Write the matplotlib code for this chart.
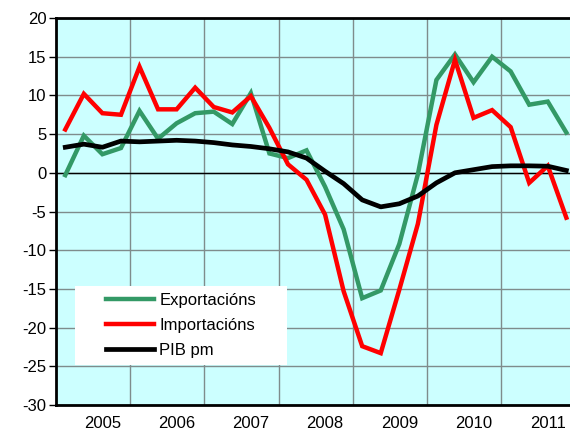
import matplotlib
matplotlib.use('Agg')
import matplotlib.pyplot as plt
from matplotlib.patches import Rectangle

plt.rcParams['font.family'] = ['Liberation Sans', 'DejaVu Sans']
plt.rcParams['axes.unicode_minus'] = False

# quarterly year-on-year rates, 2005Q1 .. 2011Q4
years = ['2005', '2006', '2007', '2008', '2009', '2010', '2011']
exportacions = [-0.3, 4.8, 2.4, 3.2, 8.0, 4.4, 6.4, 7.7,
                7.9, 6.3, 10.3, 2.5, 1.9, 2.9, -1.8, -7.3,
                -16.2, -15.2, -9.2, -0.2, 12.0, 15.3, 11.7, 15.0,
                13.1, 8.8, 9.2, 5.2]
importacions = [5.6, 10.2, 7.7, 7.5, 13.7, 8.2, 8.2, 11.0,
                8.5, 7.8, 9.9, 5.8, 1.1, -0.9, -5.4, -15.3,
                -22.4, -23.3, -15.1, -6.6, 6.2, 14.6, 7.1, 8.1,
                5.9, -1.3, 0.9, -5.8]
pib = [3.3, 3.7, 3.3, 4.1, 4.0, 4.1, 4.2, 4.1,
       3.9, 3.6, 3.4, 3.1, 2.7, 1.9, 0.2, -1.4,
       -3.5, -4.4, -4.0, -3.0, -1.3, 0.0, 0.4, 0.8,
       0.9, 0.9, 0.85, 0.3]

fig = plt.figure(figsize=(5.7, 4.32), dpi=100)
ax = fig.add_axes([56 / 570, 1 - 405 / 432, 519.6 / 570, 387 / 432])
ax.set_facecolor('#CCFFFF')

x = list(range(len(pib)))
ax.plot(x, exportacions, color='#339966', lw=3.2, zorder=3,
        solid_joinstyle='miter', label='Exportacións')
ax.plot(x, importacions, color='#FF0000', lw=3.2, zorder=3,
        solid_joinstyle='miter', label='Importacións')
ax.plot(x, pib, color='black', lw=3.4, zorder=3, label='PIB pm')
ax.axhline(0, color='black', lw=1.0, zorder=2)

ax.set_xlim(-0.5, 27.5)
ax.set_ylim(-30, 20)
ax.set_yticks(range(-30, 21, 5))
ax.set_xticks([4 * i + 2 for i in range(len(years))])
ax.set_xticklabels(years)
ax.set_xticks([4 * i - 0.5 for i in range(1, len(years))], minor=True)
ax.grid(True, which='major', axis='y', color='#7f8c8c', lw=1.0, zorder=1)
ax.grid(True, which='minor', axis='x', color='#7f8c8c', lw=1.0, zorder=1)
ax.set_axisbelow(True)
ax.tick_params(axis='y', labelsize=12, length=5, width=1, pad=2, direction='out')
ax.tick_params(axis='x', which='both', length=0, labelsize=12, pad=8)

for side in ['left', 'top', 'bottom']:
    ax.spines[side].set_linewidth(2)
ax.spines['right'].set_visible(False)

# white legend panel
box_l, box_r = (75 - 56) / 519.6, (286.7 - 56) / 519.6
box_t, box_b = (405 - 286) / 387, (405 - 365) / 387
ax.add_patch(Rectangle((box_l, box_b), box_r - box_l, box_t - box_b,
                       transform=ax.transAxes, facecolor='white',
                       edgecolor='none', zorder=4))
leg = ax.legend(loc='center', bbox_to_anchor=((box_l + box_r) / 2, (box_t + box_b) / 2),
                frameon=False, fontsize=12, handlelength=2.9, handletextpad=0.3,
                labelspacing=0.6, borderpad=0)
leg.set_zorder(5)

fig.savefig('out.png', dpi=100)
